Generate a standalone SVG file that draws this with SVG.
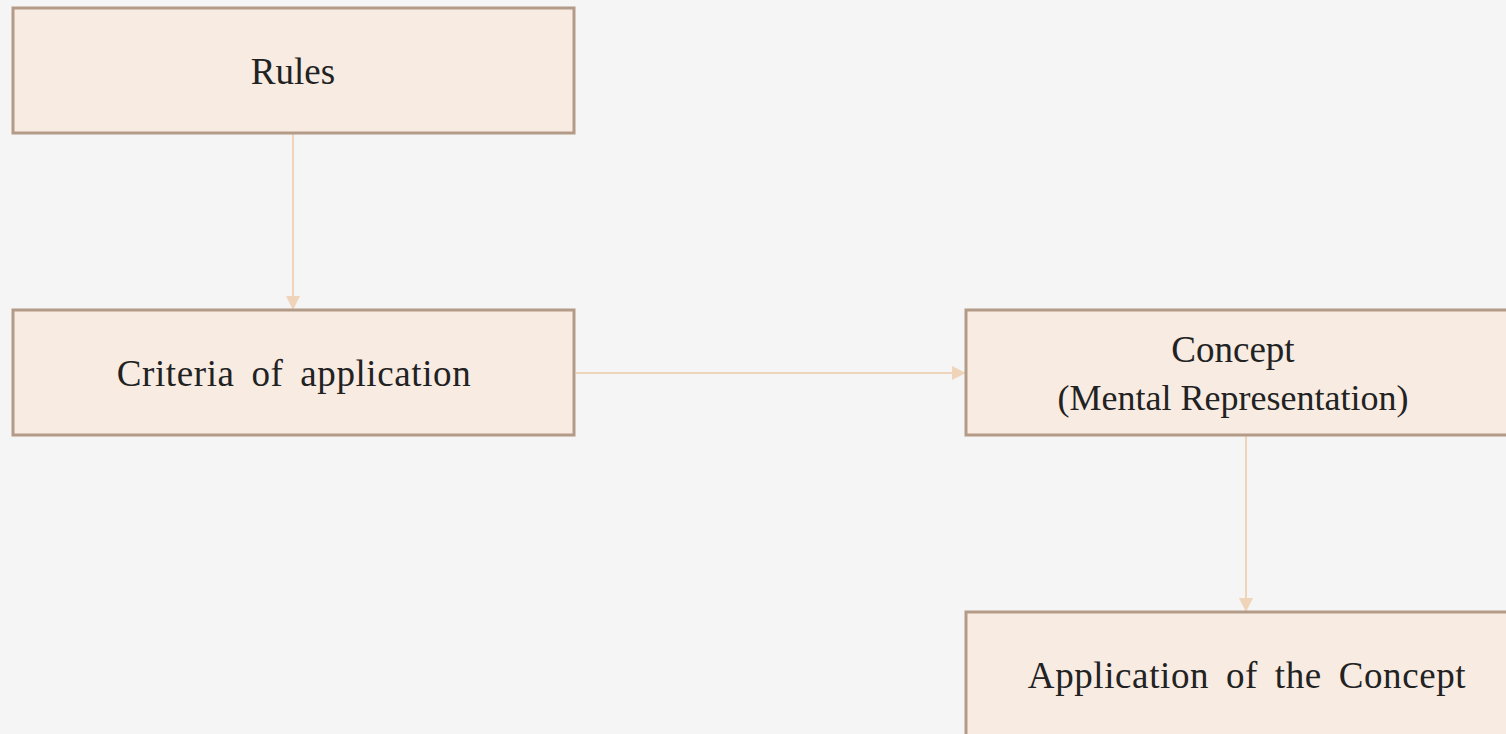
<svg xmlns="http://www.w3.org/2000/svg" width="1506" height="734" viewBox="0 0 1506 734">
<style>
.box{fill:#f7ebe2;stroke:#b49b88;stroke-width:3}
.lbl{font-family:"Liberation Serif","Times New Roman",serif;font-size:37px;fill:#222;text-anchor:middle}
.wide{letter-spacing:0.6px;word-spacing:7px}
.conn{stroke:#efd4ba;stroke-width:2;fill:none}
</style>
<defs>
<marker id="ah" viewBox="0 0 14 14" refX="13" refY="7" markerWidth="14" markerHeight="14" markerUnits="userSpaceOnUse" orient="auto">
<path d="M0,0 L14,7 L0,14 Z" fill="#efd4ba"/>
</marker>
</defs>
<rect width="1506" height="734" fill="#f5f5f5"/>
<g id="connectors">
<line class="conn" x1="293" y1="134" x2="293" y2="309" marker-end="url(#ah)"/>
<line class="conn" x1="576" y1="373" x2="965" y2="373" marker-end="url(#ah)"/>
<line class="conn" x1="1246" y1="436" x2="1246" y2="611" marker-end="url(#ah)"/>
</g>
<g id="node-rules">
<rect class="box" x="13" y="8" width="561" height="125"/>
<text class="lbl" x="293" y="84">Rules</text>
</g>
<g id="node-criteria">
<rect class="box" x="13" y="310" width="561" height="125"/>
<text class="lbl wide" x="294" y="386">Criteria of application</text>
</g>
<g id="node-concept">
<rect class="box" x="966" y="310" width="561" height="125"/>
<text class="lbl" x="1233" y="362">Concept</text>
<text class="lbl" x="1233" y="410" style="font-size:36px">(Mental Representation)</text>
</g>
<g id="node-application">
<rect class="box" x="966" y="612" width="561" height="125"/>
<text class="lbl wide" x="1247" y="688">Application of the Concept</text>
</g>
</svg>
